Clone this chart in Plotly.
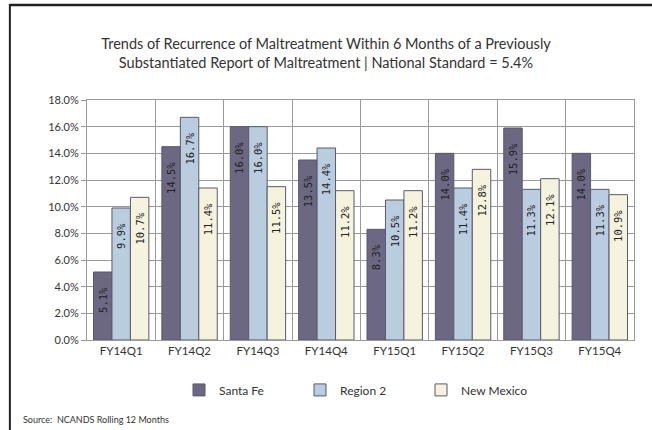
import plotly.graph_objects as go

# Quarters and recurrence rates (%)
quarters = ["FY14Q1", "FY14Q2", "FY14Q3", "FY14Q4", "FY15Q1", "FY15Q2", "FY15Q3", "FY15Q4"]
santa_fe = [5.1, 14.5, 16.0, 13.5, 8.3, 14.0, 15.9, 14.0]
region_2 = [9.9, 16.7, 16.0, 14.4, 10.5, 11.4, 11.3, 11.3]
new_mexico = [10.7, 11.4, 11.5, 11.2, 11.2, 12.8, 12.1, 10.9]

series = [("Santa Fe", santa_fe, "#6c6783"),
          ("Region 2", region_2, "#b9cce0"),
          ("New Mexico", new_mexico, "#f5f2dd")]

fig = go.Figure()
for name, vals, color in series:
    fig.add_trace(go.Bar(
        x=quarters, y=vals, name=name,
        marker=dict(color=color, line=dict(color="#5a596c", width=1)),
        # trailing no-break spaces push the label a little below the bar top
        texttemplate="%{y:.1f}%\u00a0\u00a0", textposition="inside", insidetextanchor="end",
        textangle=-90, textfont=dict(family="DejaVu Sans Mono", size=10.5, color="#222222"),
    ))

fig.update_layout(
    width=652, height=430,
    barmode="group", bargap=0.19, bargroupgap=0,
    plot_bgcolor="white", paper_bgcolor="white",
    margin=dict(l=87, r=18, t=100, b=90, autoexpand=False),
    font=dict(family="Lato", size=11, color="#333333"),
    title=dict(
        text="Trends of Recurrence of Maltreatment Within 6 Months of a Previously<br>"
             "Substantiated Report of Maltreatment | National Standard = 5.4%",
        x=0.5, xref="container", xanchor="center", y=1 - 49 / 430, yref="container",
        yanchor="middle", font=dict(family="Lato", size=14.5, color="#333333")),
    legend=dict(orientation="h", x=0.5, xanchor="center", y=-0.208, yanchor="middle",
                font=dict(size=12), entrywidth=76, entrywidthmode="pixels", itemwidth=30),
    uniformtext=dict(minsize=8, mode="show"),
    showlegend=True,
)
fig.update_xaxes(showgrid=True, gridcolor="#9a9a9a", gridwidth=1, tickson="boundaries",
                 ticks="", showline=True, linecolor="#9a9a9a", mirror=True,
                 tickfont=dict(size=11.5))
fig.update_yaxes(range=[0, 18], dtick=2, tickformat=".1f", ticksuffix="%",
                 showgrid=True, gridcolor="#9a9a9a", gridwidth=1, zeroline=False,
                 showline=True, linecolor="#9a9a9a", mirror=True,
                 ticks="outside", ticklen=5, tickcolor="#9a9a9a", tickfont=dict(size=11))

# Frame lines of the surrounding box
fig.add_shape(type="line", xref="paper", yref="paper", x0=-0.141, x1=1.04, y0=1.396, y1=1.396,
              line=dict(color="#222222", width=2.5))
fig.add_shape(type="line", xref="paper", yref="paper", x0=-0.141, x1=-0.141, y0=-0.4, y1=1.4,
              line=dict(color="#222222", width=2))

fig.add_annotation(text="Source:  NCANDS Rolling 12 Months", xref="paper", yref="paper",
                   x=-0.12, y=-0.333, xanchor="left", yanchor="middle", showarrow=False,
                   font=dict(size=9, color="#333333"))

# drop the default page margin so the figure sits at the window's corner
fig.write_html("out.html", config={"displayModeBar": False},
               post_script="document.body.style.margin='0';")
